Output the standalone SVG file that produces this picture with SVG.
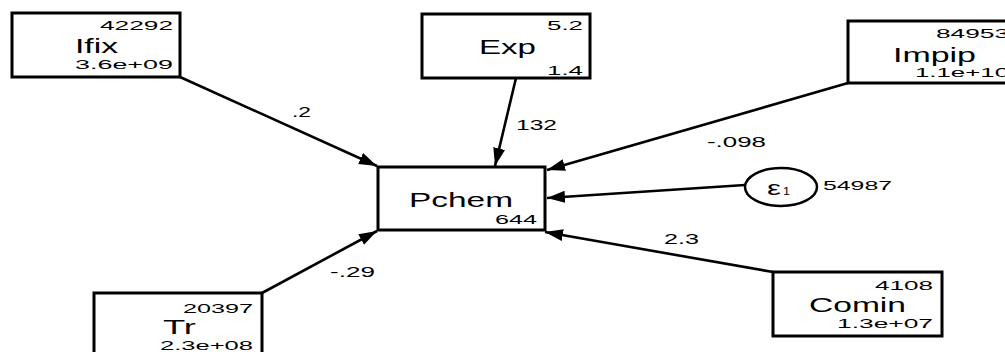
<svg xmlns="http://www.w3.org/2000/svg" width="1005" height="352" viewBox="0 0 1005 352">
<style>
.box{fill:#fff;stroke:#000;stroke-width:3}
.ell{fill:#fff;stroke:#000;stroke-width:2.5}
.edge{stroke:#000;stroke-width:2.6;fill:none;marker-end:url(#ah)}
text{font-family:"Liberation Sans",Arial,sans-serif;fill:#000}
.nm{font-size:20px}
.sm{font-size:13px}
.lb{font-size:15px}
</style>
<defs>
<marker id="ah" markerUnits="userSpaceOnUse" markerWidth="20" markerHeight="14" refX="18" refY="6" orient="auto">
<path d="M0,0 L18,6 L0,12 z" fill="#000"/>
</marker>
</defs>
<rect width="1005" height="352" fill="#fff"/>
<g id="connectors">
<line class="edge" x1="180" y1="77" x2="377" y2="166"/>
<line class="edge" x1="516" y1="78" x2="495" y2="166"/>
<line class="edge" x1="848" y1="83" x2="547" y2="170"/>
<line class="edge" x1="745" y1="185" x2="547" y2="198"/>
<line class="edge" x1="773" y1="272" x2="545" y2="232"/>
<line class="edge" x1="262" y1="293" x2="377" y2="231"/>
<text class="lb" x="292" y="117" textLength="19" lengthAdjust="spacingAndGlyphs">.2</text>
<text class="lb" x="516" y="130" textLength="41" lengthAdjust="spacingAndGlyphs">132</text>
<text class="lb" x="707" y="147" textLength="59" lengthAdjust="spacingAndGlyphs">-.098</text>
<text class="lb" x="664" y="244" textLength="35" lengthAdjust="spacingAndGlyphs">2.3</text>
<text class="lb" x="330" y="277" textLength="45" lengthAdjust="spacingAndGlyphs">-.29</text>
</g>
<g id="Ifix">
<rect class="box" x="12" y="13" width="168" height="64"/>
<text class="sm" x="100" y="30" textLength="73" lengthAdjust="spacingAndGlyphs">42292</text>
<text class="nm" x="75" y="53" textLength="43" lengthAdjust="spacingAndGlyphs">Ifix</text>
<text class="sm" x="75" y="69" textLength="98" lengthAdjust="spacingAndGlyphs">3.6e+09</text>
</g>
<g id="Exp">
<rect class="box" x="422" y="14" width="168" height="64"/>
<text class="sm" x="547" y="30" textLength="36" lengthAdjust="spacingAndGlyphs">5.2</text>
<text class="nm" x="479" y="54" textLength="57" lengthAdjust="spacingAndGlyphs">Exp</text>
<text class="sm" x="547" y="75" textLength="36" lengthAdjust="spacingAndGlyphs">1.4</text>
</g>
<g id="Impip">
<rect class="box" x="848" y="21" width="168" height="62"/>
<text class="sm" x="936" y="38" textLength="73" lengthAdjust="spacingAndGlyphs">84953</text>
<text class="nm" x="893" y="62" textLength="83" lengthAdjust="spacingAndGlyphs">Impip</text>
<text class="sm" x="915" y="77" textLength="94" lengthAdjust="spacingAndGlyphs">1.1e+10</text>
</g>
<g id="Pchem">
<rect class="box" x="378" y="167" width="167" height="63"/>
<text class="nm" x="409" y="207" textLength="104" lengthAdjust="spacingAndGlyphs">Pchem</text>
<text class="sm" x="495" y="224" textLength="42" lengthAdjust="spacingAndGlyphs">644</text>
</g>
<g id="e1">
<ellipse class="ell" cx="781" cy="187" rx="36" ry="19"/>
<text x="767" y="195" font-size="20" textLength="14" lengthAdjust="spacingAndGlyphs">ε</text>
<text x="783" y="195" font-size="11" textLength="7" lengthAdjust="spacingAndGlyphs">1</text>
<text class="sm" x="823" y="190" textLength="69" lengthAdjust="spacingAndGlyphs">54987</text>
</g>
<g id="Comin">
<rect class="box" x="773" y="272" width="169" height="64"/>
<text class="sm" x="875" y="290" textLength="58" lengthAdjust="spacingAndGlyphs">4108</text>
<text class="nm" x="809" y="312" textLength="97" lengthAdjust="spacingAndGlyphs">Comin</text>
<text class="sm" x="837" y="328" textLength="96" lengthAdjust="spacingAndGlyphs">1.3e+07</text>
</g>
<g id="Tr">
<rect class="box" x="94" y="293" width="168" height="64"/>
<text class="sm" x="183" y="313" textLength="70" lengthAdjust="spacingAndGlyphs">20397</text>
<text class="nm" x="163" y="334" textLength="33" lengthAdjust="spacingAndGlyphs">Tr</text>
<text class="sm" x="160" y="350" textLength="93" lengthAdjust="spacingAndGlyphs">2.3e+08</text>
</g>
</svg>
